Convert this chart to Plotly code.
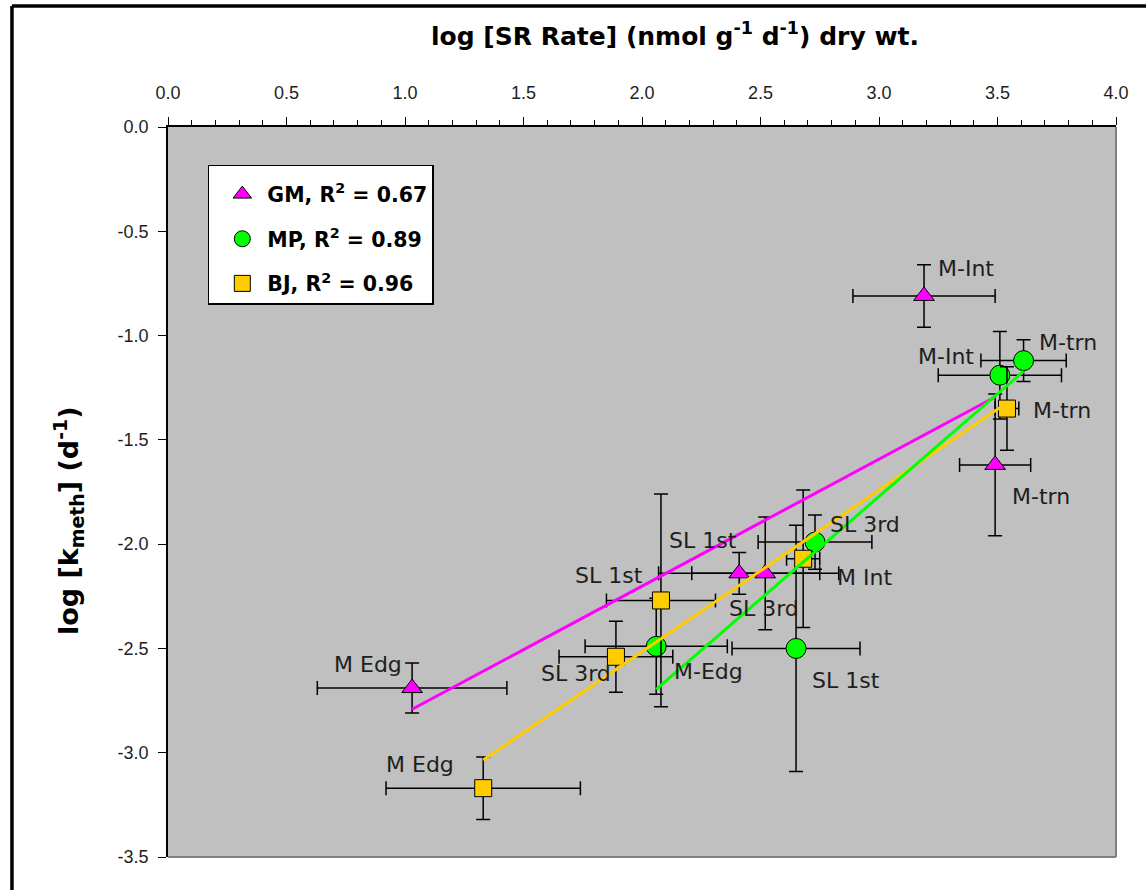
import numpy as np
import plotly.graph_objects as go

# ---- data: log SR rate (x) vs log k_meth (y), with +/- errors ----
gm_labels = ["M Edg", "SL 1st", "SL 3rd", "M-Int", "M-trn"]
gm_x = [1.03, 2.41, 2.52, 3.19, 3.49]
gm_y = [-2.69, -2.14, -2.14, -0.81, -1.62]
gm_xerr = [0.40, 0.34, 0.31, 0.30, 0.15]
gm_yerr = [0.12, 0.10, 0.27, 0.15, 0.34]

mp_labels = ["M-Edg", "SL 1st", "SL 3rd", "M-Int", "M-trn"]
mp_x = [2.06, 2.65, 2.73, 3.51, 3.61]
mp_y = [-2.49, -2.50, -1.99, -1.19, -1.12]
mp_xerr = [0.30, 0.27, 0.24, 0.26, 0.18]
mp_yerr = [0.23, 0.59, 0.13, 0.21, 0.10]

bj_labels = ["M Edg", "SL 3rd", "SL 1st", "M Int", "M-trn"]
bj_x = [1.33, 1.89, 2.08, 2.68, 3.54]
bj_y = [-3.17, -2.54, -2.27, -2.07, -1.35]
bj_xerr = [0.41, 0.24, 0.23, 0.07, 0.05]
bj_yerr = [0.15, 0.17, 0.51, 0.33, 0.20]

legend_names = ["GM, R<sup>2</sup> = 0.67", "MP, R<sup>2</sup> = 0.89", "BJ, R<sup>2</sup> = 0.96"]

x_tick_vals = [0.0, 0.5, 1.0, 1.5, 2.0, 2.5, 3.0, 3.5, 4.0]
x_tick_text = ["0.0", "0.5", "1.0", "1.5", "2.0", "2.5", "3.0", "3.5", "4.0"]
y_tick_vals = [0.0, -0.5, -1.0, -1.5, -2.0, -2.5, -3.0, -3.5]
y_tick_text = ["0.0", "-0.5", "-1.0", "-1.5", "-2.0", "-2.5", "-3.0", "-3.5"]

# ---- label placement (pixel offsets from each point) ----
gm_lab_pos = [("right", -8, 24), ("left", -72, 33), ("left", -38, -35), ("left", 12, 27), ("left", 15, -32)]
mp_lab_pos = [("left", 16, -25), ("left", 14, -32), ("left", 13, 18), ("right", -24, 19), ("left", 13, 18)]
bj_lab_pos = [("right", -27, 24), ("right", -3, -17), ("right", -16, 25), ("left", 32, -19), ("left", 24, -2)]

TICK_FONT = "Liberation Sans, Arial, sans-serif"
TEXT_FONT = "DejaVu Sans, Verdana, sans-serif"
TXT = "#1e1e1e"

series = [
    dict(name=legend_names[0], x=gm_x, y=gm_y, xe=gm_xerr, ye=gm_yerr, labels=gm_labels, pos=gm_lab_pos,
         symbol="triangle-up", size=18, color="#FF00FF"),
    dict(name=legend_names[1], x=mp_x, y=mp_y, xe=mp_xerr, ye=mp_yerr, labels=mp_labels, pos=mp_lab_pos,
         symbol="circle", size=20, color="#00FF00"),
    dict(name=legend_names[2], x=bj_x, y=bj_y, xe=bj_xerr, ye=bj_yerr, labels=bj_labels, pos=bj_lab_pos,
         symbol="square", size=17, color="#FFCC00"),
]

fig = go.Figure()

# points with error bars
for i, s in enumerate(series):
    fig.add_trace(go.Scatter(
        x=s["x"], y=s["y"], mode="markers", name="<b>" + s["name"] + "</b>",
        legendgroup=f"g{i}",
        marker=dict(symbol=s["symbol"], size=s["size"], color=s["color"],
                    line=dict(color="black", width=1)),
        error_x=dict(type="data", array=s["xe"], symmetric=True, color="black", thickness=1.5, width=7),
        error_y=dict(type="data", array=s["ye"], symmetric=True, color="black", thickness=1.5, width=7),
    ))

# least-squares trend lines, drawn over the points (GM, BJ, then MP)
for s in (series[0], series[2], series[1]):
    xs = np.array(s["x"])
    ys = np.array(s["y"])
    m, b = np.polyfit(xs, ys, 1)
    xl = np.array([xs.min(), xs.max()])
    fig.add_trace(go.Scatter(x=xl, y=m * xl + b, mode="lines", showlegend=False,
                             hoverinfo="skip", line=dict(color=s["color"], width=3)))

# point labels
annotations = []
for s in series:
    for xv, yv, lab, (anc, dx, dy) in zip(s["x"], s["y"], s["labels"], s["pos"]):
        annotations.append(dict(x=xv, y=yv, xref="x", yref="y", text=lab, showarrow=False,
                                xanchor=anc, yanchor="middle", xshift=dx, yshift=dy,
                                font=dict(family=TEXT_FONT, size=22, color=TXT)))

# axis titles
annotations.append(dict(x=0.535, y=1.127, xref="paper", yref="paper", showarrow=False,
                        text="<b>log [SR Rate] (nmol g<sup>-1</sup> d<sup>-1</sup>) dry wt.</b>",
                        xanchor="center", yanchor="middle",
                        font=dict(family=TEXT_FONT, size=25, color="black")))
annotations.append(dict(x=-0.1055, y=0.4616, xref="paper", yref="paper", showarrow=False,
                        text="<b>log [k<sub>meth</sub>] (d<sup>-1</sup>)</b>", textangle=-90,
                        xanchor="center", yanchor="middle",
                        font=dict(family=TEXT_FONT, size=27, color="black")))

shapes = [
    # plot-area right and bottom edges
    dict(type="line", xref="paper", yref="paper", x0=1, x1=1, y0=0, y1=1,
         line=dict(color="#808080", width=2)),
    dict(type="line", xref="paper", yref="paper", x0=0, x1=1, y0=0, y1=0,
         line=dict(color="#808080", width=2)),
    # outer frame (top and left)
    dict(type="line", xref="paper", yref="paper", x0=-0.1646, x1=1.04, y0=1.1658, y1=1.1658,
         line=dict(color="black", width=3.5)),
    dict(type="line", xref="paper", yref="paper", x0=-0.1646, x1=-0.1646, y0=-0.06, y1=1.1658,
         line=dict(color="black", width=3.5)),
]

fig.update_layout(
    width=1146, height=890,
    margin=dict(l=168, r=30, t=127, b=33),
    paper_bgcolor="white",
    plot_bgcolor="#C0C0C0",
    font=dict(family=TICK_FONT, color=TXT),
    annotations=annotations,
    shapes=shapes,
    showlegend=True,
    legend=dict(
        x=0.042, y=0.948, xanchor="left", yanchor="top",
        bgcolor="white", bordercolor="black", borderwidth=1.5,
        font=dict(family=TEXT_FONT, size=20.5, color="black"),
        title=dict(text=" ", font=dict(size=6)),
        tracegroupgap=15, indentation=8, itemwidth=40,
        itemsizing="trace",
    ),
    xaxis=dict(
        side="top", range=[0, 4], tickvals=x_tick_vals, ticktext=x_tick_text,
        showgrid=False, zeroline=False, showline=True, linecolor="black", linewidth=1.5,
        ticks="outside", ticklen=8, tickwidth=1.2, tickcolor="black",
        minor=dict(dtick=0.1, tick0=0, ticks="outside", ticklen=5, tickwidth=1, tickcolor="black", showgrid=False),
        tickfont=dict(family=TICK_FONT, size=18, color=TXT),
        ticklabelstandoff=11, fixedrange=True,
    ),
    yaxis=dict(
        range=[-3.5, 0], tickvals=y_tick_vals, ticktext=y_tick_text,
        showgrid=False, zeroline=False, showline=True, linecolor="black", linewidth=1.5,
        ticks="outside", ticklen=8, tickwidth=1.2, tickcolor="black",
        tickfont=dict(family=TICK_FONT, size=18, color=TXT),
        ticklabelstandoff=6, fixedrange=True,
    ),
)

fig.write_html("out.html")
